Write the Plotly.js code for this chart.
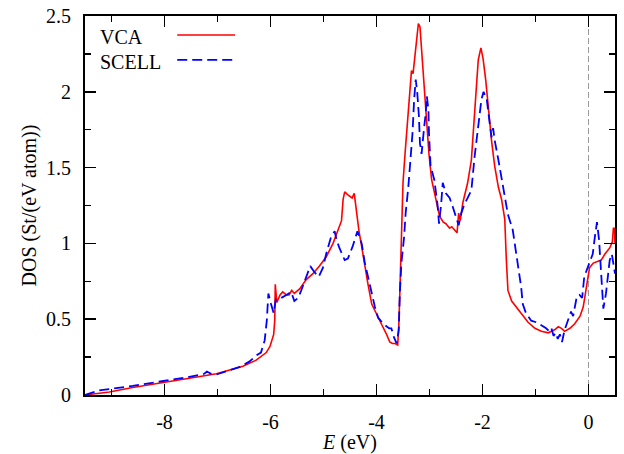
<!DOCTYPE html>
<html>
<head>
<meta charset="utf-8">
<script src="https://cdn.plot.ly/plotly-3.0.1.min.js"></script>
<style>html,body{margin:0;padding:0;background:#fff;}#chart{width:624px;height:454px;}</style>
</head>
<body>
<div id="chart"></div>
<script>
// ---- Data ----
const vcaE = [-9.5,-9.23,-9.04,-8.6,-8.04,-7.53,-7.02,-6.52,-6.27,-6.08,-6.01,-5.94,-5.92,-5.91,-5.88,-5.82,-5.77,-5.70,-5.65,-5.60,-5.55,-5.45,-5.33,-5.20,-5.08,-4.95,-4.82,-4.73,-4.66,-4.63,-4.60,-4.54,-4.50,-4.46,-4.42,-4.38,-4.33,-4.28,-4.22,-4.16,-4.09,-4.00,-3.91,-3.81,-3.75,-3.70,-3.65,-3.60,-3.58,-3.56,-3.53,-3.50,-3.46,-3.43,-3.37,-3.34,-3.31,-3.26,-3.21,-3.18,-3.15,-3.10,-3.06,-3.01,-2.96,-2.89,-2.81,-2.74,-2.69,-2.62,-2.58,-2.53,-2.48,-2.45,-2.42,-2.37,-2.28,-2.21,-2.15,-2.08,-2.03,-1.99,-1.94,-1.89,-1.83,-1.77,-1.70,-1.64,-1.58,-1.55,-1.52,-1.45,-1.36,-1.26,-1.14,-1.01,-0.89,-0.76,-0.64,-0.57,-0.51,-0.45,-0.35,-0.26,-0.16,-0.10,-0.04,0.02,0.09,0.18,0.24,0.31,0.40,0.45,0.47,0.49,0.50];
const vcaDOS = [0,0.012,0.02,0.05,0.08,0.11,0.14,0.19,0.23,0.28,0.32,0.40,0.49,0.73,0.61,0.66,0.68,0.66,0.66,0.69,0.67,0.70,0.76,0.80,0.85,0.91,1.00,1.08,1.15,1.29,1.34,1.32,1.31,1.30,1.33,1.20,1.08,0.98,0.84,0.73,0.60,0.53,0.47,0.40,0.35,0.34,0.34,0.33,0.45,0.67,1.05,1.40,1.60,1.73,1.99,2.14,2.12,2.28,2.45,2.43,2.28,2.06,1.81,1.59,1.42,1.31,1.18,1.14,1.13,1.10,1.11,1.09,1.07,1.20,1.15,1.27,1.40,1.55,1.88,2.21,2.29,2.22,2.08,1.88,1.68,1.51,1.37,1.29,1.16,0.89,0.69,0.62,0.58,0.53,0.48,0.44,0.42,0.41,0.43,0.45,0.44,0.42,0.44,0.47,0.52,0.58,0.71,0.84,0.87,0.88,0.89,0.93,0.97,1.01,1.10,1.10,1.00];

const scellE = [-9.5,-9.23,-8.6,-8.03,-7.53,-7.25,-7.20,-7.12,-7.02,-6.80,-6.58,-6.40,-6.27,-6.18,-6.11,-6.07,-6.04,-5.99,-5.94,-5.90,-5.80,-5.70,-5.61,-5.55,-5.48,-5.42,-5.33,-5.25,-5.17,-5.09,-5.01,-4.95,-4.86,-4.79,-4.75,-4.70,-4.60,-4.54,-4.45,-4.36,-4.28,-4.22,-4.16,-4.09,-4.03,-3.97,-3.87,-3.80,-3.76,-3.72,-3.67,-3.62,-3.58,-3.56,-3.53,-3.48,-3.45,-3.40,-3.36,-3.32,-3.29,-3.26,-3.23,-3.20,-3.18,-3.15,-3.10,-3.07,-3.05,-3.02,-3.01,-2.98,-2.94,-2.91,-2.85,-2.82,-2.78,-2.75,-2.69,-2.62,-2.56,-2.50,-2.45,-2.40,-2.34,-2.28,-2.21,-2.15,-2.08,-2.02,-1.98,-1.92,-1.87,-1.83,-1.80,-1.77,-1.70,-1.64,-1.58,-1.52,-1.43,-1.33,-1.27,-1.24,-1.18,-1.08,-0.99,-0.89,-0.80,-0.74,-0.70,-0.66,-0.62,-0.58,-0.54,-0.50,-0.45,-0.39,-0.33,-0.29,-0.26,-0.22,-0.17,-0.12,-0.08,-0.01,0.03,0.08,0.13,0.16,0.20,0.24,0.28,0.33,0.37,0.40,0.44,0.47,0.50];
const scellDOS = [0,0.03,0.06,0.09,0.12,0.14,0.155,0.14,0.135,0.16,0.185,0.22,0.26,0.28,0.36,0.49,0.67,0.60,0.54,0.63,0.64,0.66,0.68,0.62,0.64,0.69,0.78,0.85,0.81,0.78,0.84,0.93,1.04,1.08,1.02,0.97,0.89,0.90,0.98,1.08,1.00,0.87,0.78,0.67,0.58,0.51,0.47,0.45,0.44,0.44,0.38,0.34,0.43,0.67,0.87,1.04,1.20,1.37,1.55,1.73,1.95,2.08,1.99,1.84,1.66,1.59,1.77,1.86,1.97,1.88,1.73,1.51,1.46,1.42,1.26,1.13,1.26,1.40,1.33,1.30,1.24,1.18,1.12,1.20,1.26,1.30,1.35,1.57,1.77,1.95,2.00,1.95,1.81,1.70,1.76,1.68,1.55,1.42,1.29,1.19,1.09,0.87,0.71,0.60,0.54,0.49,0.48,0.46,0.44,0.42,0.44,0.39,0.41,0.37,0.40,0.35,0.43,0.49,0.55,0.52,0.58,0.65,0.66,0.64,0.78,0.85,0.89,0.93,1.07,1.14,1.02,0.76,0.57,0.67,0.78,0.89,0.93,0.85,0.80];

const seriesNames = ['VCA', 'SCELL'];
const xTickVals = [-8, -6, -4, -2, 0];
const xTickText = ['-8', '-6', '-4', '-2', '0'];
const yTickVals = [0, 0.5, 1, 1.5, 2, 2.5];
const yTickText = ['0', '0.5', '1', '1.5', '2', '2.5'];
const fermiLevel = 0;

// ---- Styles ----
const FONT = 'Liberation Serif';
const RED = '#ff0000';
const BLUE = '#0000ff';

const traces = [
  {x: vcaE, y: vcaDOS, name: seriesNames[0], type: 'scatter', mode: 'lines',
   line: {color: RED, width: 1.6}, showlegend: false},
  {x: scellE, y: scellDOS, name: seriesNames[1], type: 'scatter', mode: 'lines',
   line: {color: BLUE, width: 1.8, dash: '10px,5px'}, showlegend: false}
];

function axisBase() {
  return {
    ticks: 'inside', ticklen: 11, tickwidth: 1.5, tickcolor: '#000',
    showline: true, linecolor: '#000', linewidth: 2, mirror: 'allticks',
    showgrid: false, zeroline: false,
    tickfont: {family: FONT, size: 20, color: '#000'},
    ticklabelstandoff: 8
  };
}

const layout = {
  width: 624, height: 454,
  margin: {l: 85, r: 9, t: 16, b: 59},
  font: {family: FONT, size: 20, color: '#000'},
  showlegend: false,
  xaxis: Object.assign(axisBase(), {
    range: [-9.5, 0.5], tickmode: 'array', tickvals: xTickVals, ticktext: xTickText,
    minor: {ticks: 'inside', ticklen: 6, tickwidth: 1.5, tickcolor: '#000', tickmode: 'linear', tick0: 0, dtick: 1, showgrid: false},
    title: {text: '<i>E</i> (eV)', font: {family: FONT, size: 20, color: '#000'}, standoff: 2}
  }),
  yaxis: Object.assign(axisBase(), {
    range: [0, 2.5], tickmode: 'array', tickvals: yTickVals, ticktext: yTickText,
    minor: {ticks: 'inside', ticklen: 6, tickwidth: 1.5, tickcolor: '#000', tickmode: 'linear', tick0: 0, dtick: 0.25, showgrid: false},
    title: {text: 'DOS (St/(eV atom))', font: {family: FONT, size: 20, color: '#000'}, standoff: 4}
  }),
  shapes: [
    {type: 'line', xref: 'x', yref: 'paper', x0: fermiLevel, x1: fermiLevel, y0: 0, y1: 1,
     line: {color: '#999', width: 1, dash: '6px,3px'}, layer: 'below'},
    {type: 'line', xref: 'paper', yref: 'paper', x0: 0.174, x1: 0.283, y0: 0.950, y1: 0.950,
     line: {color: RED, width: 1.6}},
    {type: 'line', xref: 'paper', yref: 'paper', x0: 0.174, x1: 0.283, y0: 0.884, y1: 0.884,
     line: {color: BLUE, width: 1.8, dash: '10px,5px'}}
  ],
  annotations: [
    {xref: 'paper', yref: 'paper', x: 0.0245, y: 0.945, xanchor: 'left', yanchor: 'middle',
     text: seriesNames[0], showarrow: false, font: {family: FONT, size: 20, color: '#000'}},
    {xref: 'paper', yref: 'paper', x: 0.0245, y: 0.879, xanchor: 'left', yanchor: 'middle',
     text: seriesNames[1], showarrow: false, font: {family: FONT, size: 20, color: '#000'}}
  ]
};

Plotly.newPlot('chart', traces, layout, {displayModeBar: false, staticPlot: true});
</script>
</body>
</html>
